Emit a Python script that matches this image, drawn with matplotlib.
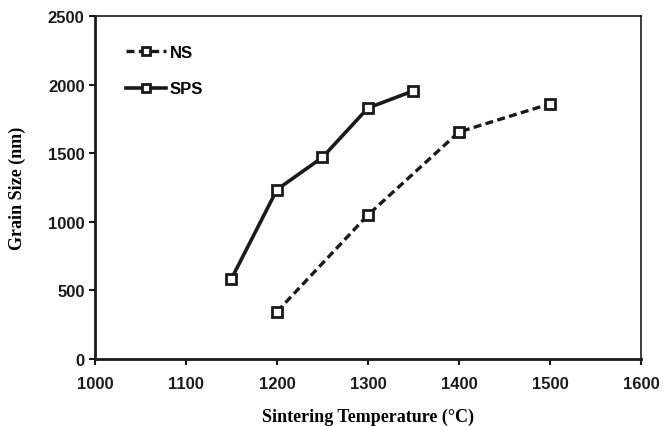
import matplotlib
matplotlib.use('Agg')
import matplotlib.pyplot as plt

# 数据
ns_temp = [1200, 1300, 1400, 1500]
ns_size = [345, 1050, 1655, 1860]
sps_temp = [1150, 1200, 1250, 1300, 1350]
sps_size = [585, 1235, 1470, 1830, 1955]

x_ticks = [1000, 1100, 1200, 1300, 1400, 1500, 1600]
y_ticks = [0, 500, 1000, 1500, 2000, 2500]

tick_font = {'family': 'Liberation Sans', 'weight': 'bold', 'size': 12}
label_font = {'family': 'Liberation Serif', 'weight': 'bold', 'size': 13}

fig = plt.figure(figsize=(6.67, 4.27), dpi=100)
ax = fig.add_axes([0.1424, 0.157, 0.8186, 0.803])

ax.plot(ns_temp, ns_size, color='#1a1a1a', linestyle=(0, (2.4, 1.3)), linewidth=2.4,
        marker='s', markersize=7, markerfacecolor='white', markeredgecolor='#1a1a1a',
        markeredgewidth=2, label='NS')
ax.plot(sps_temp, sps_size, color='#1a1a1a', linestyle='-', linewidth=2.6,
        marker='s', markersize=7, markerfacecolor='white', markeredgecolor='#1a1a1a',
        markeredgewidth=2, label='SPS')

ax.set_xlim(1000, 1600)
ax.set_ylim(0, 2500)
ax.set_xticks(x_ticks)
ax.set_yticks(y_ticks)
ax.set_xticklabels([str(v) for v in x_ticks], fontdict=tick_font, color='#1a1a1a')
ax.set_yticklabels([str(v) for v in y_ticks], fontdict=tick_font, color='#1a1a1a')
ax.tick_params(direction='out', length=4, width=1.5, color='#1a1a1a')
ax.tick_params(axis='x', pad=8)

for s in ax.spines.values():
    s.set_color('#1a1a1a')
ax.spines['left'].set_linewidth(2)
ax.spines['bottom'].set_linewidth(2)
ax.spines['top'].set_linewidth(1.2)
ax.spines['right'].set_linewidth(1.2)

ax.set_xlabel('Sintering Temperature (°C)', fontdict=label_font, labelpad=12)
ax.set_ylabel('Grain Size (nm)', fontdict=label_font, labelpad=16)

leg = ax.legend(loc='upper left', frameon=False, bbox_to_anchor=(0.03, 0.96),
                handlelength=2.4, handletextpad=0.2, labelspacing=1.3, markerscale=0.85,
                prop={'family': 'Liberation Sans', 'weight': 'bold', 'size': 12})

fig.savefig('out.png', dpi=100)
